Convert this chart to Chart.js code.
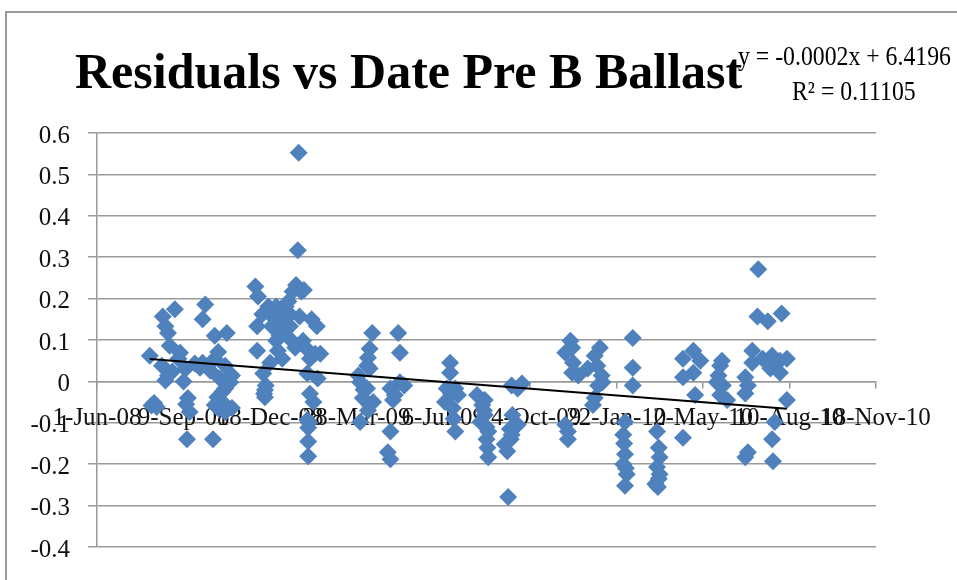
<!DOCTYPE html>
<html>
<head>
<meta charset="utf-8">
<script src="https://cdn.jsdelivr.net/npm/chart.js@4.4.0/dist/chart.umd.min.js"></script>
<style>
  html, body { margin: 0; padding: 0; background: #fff; overflow: hidden; }
  canvas { display: block; }
</style>
</head>
<body>
<canvas id="myChart" width="957" height="580"></canvas>
<script>
// dates as spreadsheet day numbers (1-Jun-08 = 39600)
const dayNums = [
  39661, 39666, 39669, 39676, 39690, 39682, 39684, 39675, 39679, 39694, 39682, 39687, 39702, 39696, 39705, 39707, 39704, 39713, 39719,
  39725, 39722, 39736, 39750, 39722, 39736, 39748, 39742, 39748, 39739, 39736, 39748, 39734, 39754, 39756, 39756, 39731, 39679, 39740,
  39745, 39700, 39663, 39703, 39740, 39745,
  39783, 39786, 39785, 39785, 39792, 39794, 39794, 39798, 39800, 39802, 39807, 39809, 39811, 39807, 39815, 39817, 39821, 39823, 39826,
  39830, 39833, 39832, 39836, 39839, 39834, 39825, 39829, 39838, 39841, 39846, 39843, 39843, 39844, 39844, 39848, 39854, 39852, 39858,
  39850, 39855, 39814, 39800, 39818, 39791, 39823, 39809, 39795, 39846, 39845, 39844, 39793,
  39918, 39948, 39915, 39950, 39912, 39915, 39904, 39912, 39907, 39915, 39904, 39939, 39950, 39944, 39939, 39936, 39939, 39919, 39902,
  39955, 39913, 39942, 39908, 39913,
  40008, 40008, 40004, 40014, 40002, 40011, 40014, 40039, 40045, 40048, 40043, 40052, 40050, 40052, 40079, 40086, 40086, 40079, 40071,
  40074, 40075, 40017, 40091, 40080, 40048, 40047, 40050, 40051, 40077, 40078, 40009, 40012,
  40147, 40149, 40141, 40150, 40149, 40156, 40181, 40175, 40178, 40167, 40183, 40184, 40175, 40173, 40141, 40144, 40144, 40219, 40219,
  40219, 40210, 40208, 40210, 40208, 40212, 40210, 40247, 40250, 40247, 40250, 40245, 40248, 40179, 40209, 40211, 40249, 40249,
  40289, 40277, 40289, 40277, 40291, 40277, 40322, 40318, 40316, 40323, 40320, 40328, 40364, 40363, 40375, 40391, 40357, 40357, 40369,
  40380, 40389, 40397, 40378, 40389, 40352, 40349, 40397, 40383, 40380, 40349, 40352, 40381, 40320, 40297, 40349
];
const residuals = [
  0.062, -0.052, -0.062, 0.157, 0.174, 0.117, 0.086, 0.038, 0.133, 0.055, 0.014, 0.024, 0.03, 0.069, -0.04, -0.074, -0.14, 0.043, 0.033,
  0.186, 0.15, 0.11, 0.117, 0.045, 0.055, 0.038, 0.007, -0.017, -0.038, -0.057, -0.074, -0.14, -0.002, -0.064, 0.014, 0.026, 0.002, 0.071,
  -0.025, 0.0, -0.058, -0.055, -0.065, -0.05,
  0.229, 0.205, 0.133, 0.074, 0.019, -0.021, -0.038, 0.181, 0.162, 0.133, 0.181, 0.145, 0.11, 0.098, 0.157, 0.121, 0.193, 0.133, 0.217,
  0.233, 0.552, 0.317, 0.217, 0.221, 0.157, 0.098, 0.081, 0.098, 0.081, 0.055, 0.019, -0.093, -0.112, -0.181, 0.15, 0.133, 0.067, 0.067,
  -0.05, 0.007, 0.055, 0.045, 0.181, 0.162, 0.162, 0.074, -0.01, -0.03, -0.1, -0.145, -0.03,
  0.117, 0.117, 0.079, 0.069, 0.038, 0.031, -0.002, -0.017, -0.04, -0.057, -0.098, -0.017, -0.002, -0.033, -0.121, -0.171, -0.188, -0.05, 0.014,
  -0.01, 0.057, -0.045, -0.02, -0.07,
  0.045, 0.021, -0.017, -0.017, -0.05, -0.064, -0.121, -0.033, -0.057, -0.081, -0.098, -0.121, -0.14, -0.183, -0.01, -0.017, -0.105, -0.129, -0.152,
  -0.169, -0.279, -0.033, -0.005, -0.081, -0.045, -0.07, -0.11, -0.16, -0.115, -0.14, -0.03, -0.09,
  0.098, 0.081, 0.069, 0.045, 0.021, 0.014, 0.081, 0.062, 0.038, 0.031, 0.014, -0.002, -0.04, -0.057, -0.105, -0.121, -0.14, 0.105, 0.033,
  -0.01, -0.098, -0.129, -0.176, -0.2, -0.224, -0.252, -0.121, -0.183, -0.207, -0.224, -0.248, -0.255, -0.01, -0.15, -0.21, -0.16, -0.235,
  0.074, 0.055, 0.021, 0.01, -0.033, -0.136, 0.05, 0.014, -0.002, -0.01, -0.033, -0.045, 0.271, 0.157, 0.145, 0.164, 0.074, 0.045, 0.055,
  0.062, 0.05, 0.055, 0.031, 0.021, -0.01, -0.029, -0.045, -0.098, -0.14, -0.183, -0.171, -0.193, 0.038, 0.05, 0.01
];
const xTickLabels = ['1-Jun-08', '9-Sep-08', '18-Dec-08', '28-Mar-09', '6-Jul-09',
  '14-Oct-09', '22-Jan-10', '2-May-10', '10-Aug-10', '18-Nov-10'];
const xStart = 39600;
const xEnd = 40500;
const yMin = -0.4;
const yMax = 0.6;

const titleText = 'Residuals vs Date Pre B Ballast';
const eqText = 'y = -0.0002x + 6.4196';
const r2Text = 'R\u00B2 = 0.11105';

// least squares trend line over the points
function trendLine(xs, ys) {
  const n = xs.length;
  let sx = 0, sy = 0, sxx = 0, sxy = 0;
  for (let i = 0; i < n; i++) {
    sx += xs[i]; sy += ys[i];
    sxx += xs[i] * xs[i]; sxy += xs[i] * ys[i];
  }
  const m = (n * sxy - sx * sy) / (n * sxx - sx * sx);
  const b = (sy - m * sx) / n;
  const x0 = Math.min(...xs), x1 = Math.max(...xs);
  return [{ x: x0, y: m * x0 + b }, { x: x1, y: m * x1 + b }];
}

const points = dayNums.map((d, i) => ({ x: d, y: residuals[i] }));

const serif = '"Liberation Serif", "DejaVu Serif", serif';

const textPlugin = {
  id: 'texts',
  beforeDraw(chart) {
    const c = chart.ctx;
    c.save();
    c.fillStyle = '#fff';
    c.fillRect(0, 0, chart.width, chart.height);
    c.strokeStyle = '#9a9a9a';
    c.lineWidth = 2;
    c.beginPath();
    c.moveTo(6, chart.height);
    c.lineTo(6, 12);
    c.lineTo(chart.width, 12);
    c.stroke();
    c.restore();
  },
  afterDraw(chart) {
    const c = chart.ctx;
    c.save();
    c.fillStyle = '#000';
    c.textBaseline = 'alphabetic';
    c.textAlign = 'left';
    c.font = '27px ' + serif;
    c.save();
    c.translate(738, 65);
    c.scale(0.88, 1);
    c.fillText(eqText, 0, 0);
    c.restore();
    c.save();
    c.translate(792, 100);
    c.scale(0.88, 1);
    c.fillText(r2Text, 0, 0);
    c.restore();
    c.font = 'bold 50px ' + serif;
    c.fillText(titleText, 75, 88);
    c.restore();
  }
};

const ctx = document.getElementById('myChart');

new Chart(ctx, {
  type: 'scatter',
  data: {
    datasets: [{
      label: 'Linear (Residuals)',
      data: trendLine(dayNums, residuals),
      showLine: true,
      borderColor: '#000',
      borderWidth: 2,
      pointRadius: 0
    }, {
      label: 'Residuals',
      data: points,
      pointStyle: 'rectRot',
      pointRadius: 9,
      pointHoverRadius: 9,
      backgroundColor: '#4f81bd',
      borderWidth: 0
    }]
  },
  options: {
    responsive: false,
    animation: false,
    devicePixelRatio: 1,
    layout: { padding: { left: 0, top: 133, right: 81, bottom: 27 } },
    plugins: {
      legend: { display: false },
      tooltip: { enabled: false },
      title: { display: false }
    },
    scales: {
      x: {
        type: 'linear',
        position: { y: 0 },
        min: xStart,
        max: xEnd,
        afterFit(s) { s.height = 0; },
        ticks: {
          stepSize: 100,
          autoSkip: false,
          maxRotation: 0,
          minRotation: 0,
          padding: 16,
          color: '#111',
          font: { family: serif, size: 25 },
          callback: v => xTickLabels[Math.round((v - xStart) / 100)]
        },
        grid: { drawOnChartArea: false, tickLength: 6, color: '#999', lineWidth: 1.5 },
        border: { color: '#999', width: 1.5 }
      },
      y: {
        min: yMin,
        max: yMax,
        afterFit(s) { s.width = 97; },
        ticks: {
          stepSize: 0.1,
          padding: 18,
          labelOffset: 3,
          color: '#111',
          font: { family: serif, size: 25 }
        },
        grid: { color: '#999', lineWidth: 1.5, tickLength: 9 },
        border: { color: '#999', width: 1.5 }
      }
    }
  },
  plugins: [textPlugin]
});
</script>
</body>
</html>
